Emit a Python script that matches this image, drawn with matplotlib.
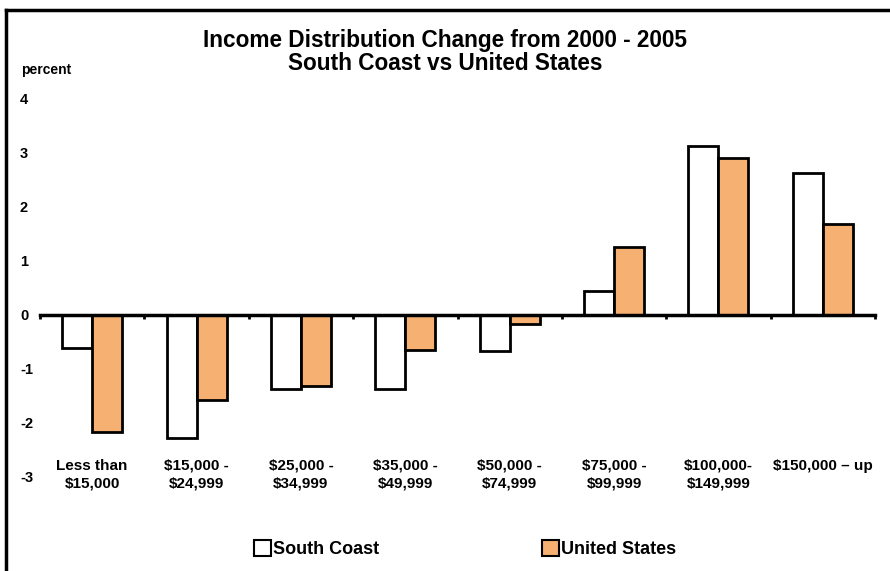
import matplotlib
matplotlib.use("Agg")
import matplotlib.pyplot as plt
import numpy as np
from matplotlib.lines import Line2D
from matplotlib.patches import Rectangle

plt.rcParams['font.family'] = ['Liberation Sans', 'DejaVu Sans']
plt.rcParams['font.weight'] = 'bold'

categories = ["Less than\n$15,000", "$15,000 -\n$24,999", "$25,000 -\n$34,999",
              "$35,000 -\n$49,999", "$50,000 -\n$74,999", "$75,000 -\n$99,999",
              "$100,000-\n$149,999", "$150,000 \u2013 up"]
south_coast = [-0.61, -2.28, -1.37, -1.38, -0.67, 0.44, 3.11, 2.61]
united_states = [-2.17, -1.58, -1.32, -0.66, -0.17, 1.25, 2.89, 1.68]
y_ticks = [-3, -2, -1, 0, 1, 2, 3, 4]

orange = "#F6B172"

fig = plt.figure(figsize=(8.9, 5.71), dpi=100)
ax = fig.add_axes([40 / 890, 1 - 477 / 571, 835 / 890, 379 / 571])

x = np.arange(len(categories))
w = 0.287
ax.bar(x - w / 2, south_coast, w, color="white", edgecolor="black", linewidth=2, zorder=2)
ax.bar(x + w / 2, united_states, w, color=orange, edgecolor="black", linewidth=2, zorder=2)

ax.set_xlim(-0.5, len(categories) - 0.5)
ax.set_ylim(-3, 4)

for s in ["left", "right", "bottom"]:
    ax.spines[s].set_visible(False)
ax.spines["top"].set_position(("data", 0))
ax.spines["top"].set_linewidth(2.5)
ax.spines["top"].set_zorder(3)

ax.set_xticks(x)
ax.set_xticklabels(categories, fontsize=11, fontweight="bold", linespacing=1.35)
ax.set_xticks(np.arange(len(categories) + 1) - 0.5, minor=True)
ax.tick_params(axis="x", which="major", bottom=True, top=False, length=0, pad=-13)
ax.tick_params(axis="x", which="minor", bottom=False, top=True, direction="in",
               length=3, width=2)

ax.set_yticks(y_ticks)
ax.set_yticklabels([str(v) for v in y_ticks], fontsize=10.5, fontweight="bold")
ax.tick_params(axis="y", length=0, pad=0)
for lbl in ax.get_yticklabels():
    lbl.set_horizontalalignment("left")
    lbl.set_x(-20 / 835)

fig.text(21 / 890, 1 - 70 / 571, "percent", fontsize=10, fontweight="bold",
         ha="left", va="center")
fig.text(0.5, 1 - 40 / 571, "Income Distribution Change from 2000 - 2005",
         fontsize=16.3, fontweight="bold", ha="center", va="center")
fig.text(0.5, 1 - 63 / 571, "South Coast vs United States",
         fontsize=16.3, fontweight="bold", ha="center", va="center")

# legend
fig.legend(handles=[Rectangle((0, 0), 1, 1, facecolor="white", edgecolor="black", linewidth=1.5),
                    Rectangle((0, 0), 1, 1, facecolor=orange, edgecolor="black", linewidth=1.5)],
           labels=["South Coast", "United States"], ncol=2, frameon=False,
           loc="center", bbox_to_anchor=(465 / 890, 1 - 549 / 571),
           prop={"size": 13, "weight": "bold"}, handlelength=0.95, handleheight=1.0,
           handletextpad=0.12, columnspacing=9.0)

# outer frame on the left and top edges
fig.add_artist(Line2D([6 / 890, 6 / 890], [0, 1 - 10 / 571], color="black", linewidth=2.5))
fig.add_artist(Line2D([6 / 890, 1], [1 - 10 / 571, 1 - 10 / 571], color="black", linewidth=2.5))

fig.savefig("out.png", dpi=100)
